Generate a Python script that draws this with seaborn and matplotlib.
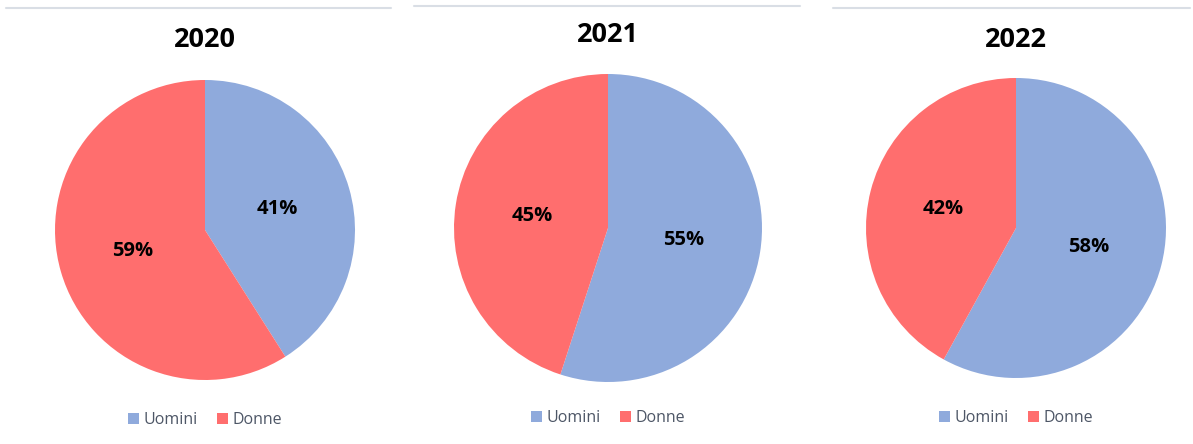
import matplotlib
matplotlib.use("Agg")
import matplotlib.pyplot as plt
import seaborn as sns
from matplotlib.lines import Line2D
from matplotlib.patches import Patch

sns.set_theme(style="white")
plt.rcParams['font.family'] = ['Open Sans', 'DejaVu Sans']

years = ["2020", "2021", "2022"]
categories = ["Uomini", "Donne"]
uomini = [41, 55, 58]
donne = [59, 45, 42]

colors = ["#8FAADC", "#FF6E6E"]

W, H = 1193, 444
fig = plt.figure(figsize=(W / 100, H / 100), dpi=100)

# panel geometry in pixels: (cx, cy, r, title_y, legend_y, line_x0, line_x1, line_y)
panels = [
    (205, 230, 150, 40, 420, 6, 391, 8),
    (608, 228, 154, 35, 418, 414, 800, 6),
    (1016, 228, 150, 40, 418, 833, 1190, 8),
]

for i, (cx, cy, r, ty, ly, lx0, lx1, lny) in enumerate(panels):
    ax = fig.add_axes([(cx - r) / W, (H - cy - r) / H, 2 * r / W, 2 * r / H])
    vals = [uomini[i], donne[i]]
    wedges, texts = ax.pie(
        vals, colors=colors, startangle=90, counterclock=False,
        labels=[f"{v}%" for v in vals], labeldistance=0.5,
        wedgeprops=dict(linewidth=0),
        textprops=dict(fontsize=14.5, fontweight="bold", color="black",
                       ha="center", va="center"),
    )
    ax.set_xlim(-1, 1)
    ax.set_ylim(-1, 1)
    ax.axis("off")

    fig.add_artist(Line2D([lx0 / W, lx1 / W], [1 - lny / H, 1 - lny / H],
                          color="#D9DEE5", linewidth=1.5, transform=fig.transFigure))
    fig.text(cx / W, 1 - ty / H, years[i], ha="center", va="center",
             fontsize=19.5, fontweight="bold", color="black")
    handles = [Patch(facecolor=c, edgecolor="none") for c in colors]
    fig.legend(handles, categories, loc="center", bbox_to_anchor=(cx / W, 1 - ly / H),
               ncol=2, frameon=False, fontsize=11.5, handlelength=0.7, handleheight=0.7,
               handletextpad=0.3, columnspacing=1.2, labelcolor="#4D5666")

fig.savefig("out.png", dpi=100, facecolor="white")
